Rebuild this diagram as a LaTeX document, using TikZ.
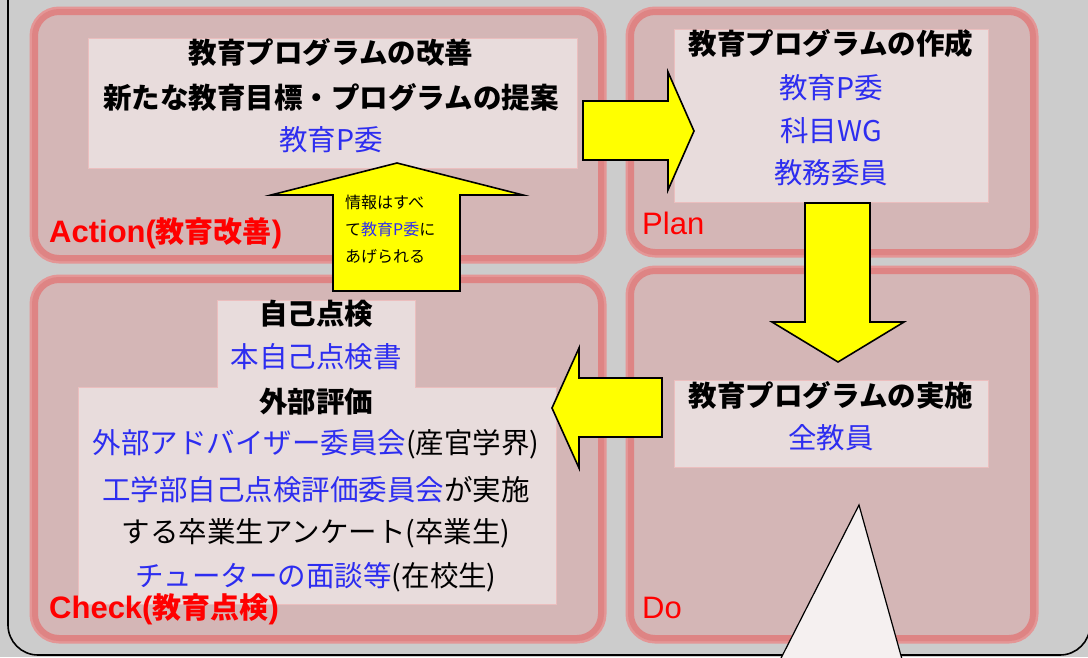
\documentclass[tikz,border=0pt]{standalone}
\usepackage{fontspec}
\setmainfont{Noto Sans CJK JP}
\newfontfamily\latinfont{Liberation Sans}
\definecolor{bg}{RGB}{204,204,204}
\definecolor{panelfill}{RGB}{212,182,182}
\definecolor{halo}{RGB}{228,150,150}
\definecolor{pborder}{RGB}{222,132,132}
\definecolor{boxfill}{RGB}{232,220,220}
\definecolor{boxedge}{RGB}{235,190,190}
\definecolor{jblue}{RGB}{45,45,240}
\definecolor{jred}{RGB}{255,0,0}
\definecolor{ayellow}{RGB}{255,255,0}
\definecolor{tri}{RGB}{245,240,240}
\tikzset{
  panelhalo/.style={draw=halo, line width=11pt, rounded corners=24pt},
  panelbody/.style={fill=panelfill, draw=pborder, line width=6pt, rounded corners=24pt},
  innerbox/.style={fill=boxfill, draw=boxedge, line width=0.6pt},
  headtxt/.style={inner sep=0pt, font=\fontsize{28.5}{34}\selectfont\bfseries},
  bluetxt/.style={inner sep=0pt, text=jblue, font=\fontsize{28.5}{34}\selectfont},
  plaintxt/.style={inner sep=0pt, font=\fontsize{28.5}{34}\selectfont},
  redlabel/.style={inner sep=0pt, anchor=base west, text=jred, font=\fontsize{31}{34}\selectfont},
  blockarrow/.style={fill=ayellow, draw=black, line width=1.6pt, line join=miter},
}
\newcommand{\cjklab}[1]{{\fontsize{29}{34}\selectfont\bfseries #1}}
\begin{document}
\begin{tikzpicture}[x=1pt,y=-1pt]
\useasboundingbox (0,0) rectangle (1088,657);
\clip (0,0) rectangle (1088,657);
\fill[bg] (0,0) rectangle (1088,657);
% outer frame
\draw[line width=1.6pt, rounded corners=30pt] (8,-60) rectangle (1090,655);

% panels
\foreach \a/\b/\c/\d in {35/12/601/258, 631/12/1033/252, 35/280/601/638, 631/271/1033/638}{
  \draw[panelhalo] (\a,\b) rectangle (\c,\d);
  \draw[panelbody] (\a,\b) rectangle (\c,\d);
}

% white triangle in Do panel
\draw[fill=tri, draw=black, line width=1.2pt] (859,505) -- (775,670) -- (905,670) -- cycle;

% inner boxes
\draw[innerbox] (88,38) rectangle (577,168);
\draw[innerbox] (674,29) rectangle (988,202);
\draw[innerbox] (674,380) rectangle (988,467);
\draw[innerbox] (217,300) -- (415,300) -- (415,387) -- (556,387) -- (556,604) -- (78,604) -- (78,387) -- (217,387) -- cycle;

% Action texts
\node[headtxt] (a1) at (331,52) {教育プログラムの改善};
\node[headtxt] (a2) at (331,97) {新たな教育目標・プログラムの提案};
\node[bluetxt]  (a3) at (331,140) {教育P委};
% Plan texts
\node[headtxt] (p1) at (831,44) {教育プログラムの作成};
\node[bluetxt]  (p2) at (831,88) {教育P委};
\node[bluetxt]  (p3) at (831,131) {科目WG};
\node[bluetxt]  (p4) at (831,173) {教務委員};
% Do texts
\node[headtxt] (d1) at (831,395) {教育プログラムの実施};
\node[bluetxt]  (d2) at (831,438) {全教員};
% Check texts
\node[headtxt] (c1) at (316,314) {自己点検};
\node[bluetxt]  (c2) at (316,357) {本自己点検書};
\node[headtxt] (c3) at (316,402) {外部評価};
\node[plaintxt] (c4) at (316,444) {{\color{jblue}外部アドバイザー委員会}(産官学界)};
\node[plaintxt] (c5) at (316,490) {{\color{jblue}工学部自己点検評価委員会}が実施};
\node[plaintxt] (c6) at (316,533) {する卒業生アンケート(卒業生)};
\node[plaintxt] (c7) at (316,577) {{\color{jblue}チューターの面談等}(在校生)};

% panel labels
\node[redlabel] (lA) at (49,242) {{\latinfont\bfseries Action(}\cjklab{教育改善}{\latinfont\bfseries )}};
\node[redlabel] (lP) at (642,234) {{\latinfont Plan}};
\node[redlabel] (lC) at (49,618) {{\latinfont\bfseries Check(}\cjklab{教育点検}{\latinfont\bfseries )}};
\node[redlabel] (lD) at (642,618) {{\latinfont Do}};

% block arrows
% Action -> Plan (right)
\draw[blockarrow] (583,101) -- (668,101) -- (668,72) -- (694,131) -- (668,190) -- (668,160) -- (583,160) -- cycle;
% Plan -> Do (down)
\draw[blockarrow] (805,203) -- (870,203) -- (870,322) -- (904,322) -- (838,362) -- (772,322) -- (805,322) -- cycle;
% Do -> Check (left)
\draw[blockarrow] (662,378) -- (662,437) -- (579,437) -- (579,468) -- (552,408) -- (579,348) -- (579,378) -- cycle;
% Check -> Action (up)
\draw[blockarrow] (333,291) -- (333,195) -- (271,195) -- (397,163) -- (523,195) -- (460,195) -- (460,291) -- cycle;
\node[inner sep=0pt, anchor=west, align=left, font=\fontsize{16}{27}\selectfont] (up) at (345,229)
  {情報はすべ\\て{\color{jblue}教育P委}に\\あげられる};
\end{tikzpicture}
\end{document}
